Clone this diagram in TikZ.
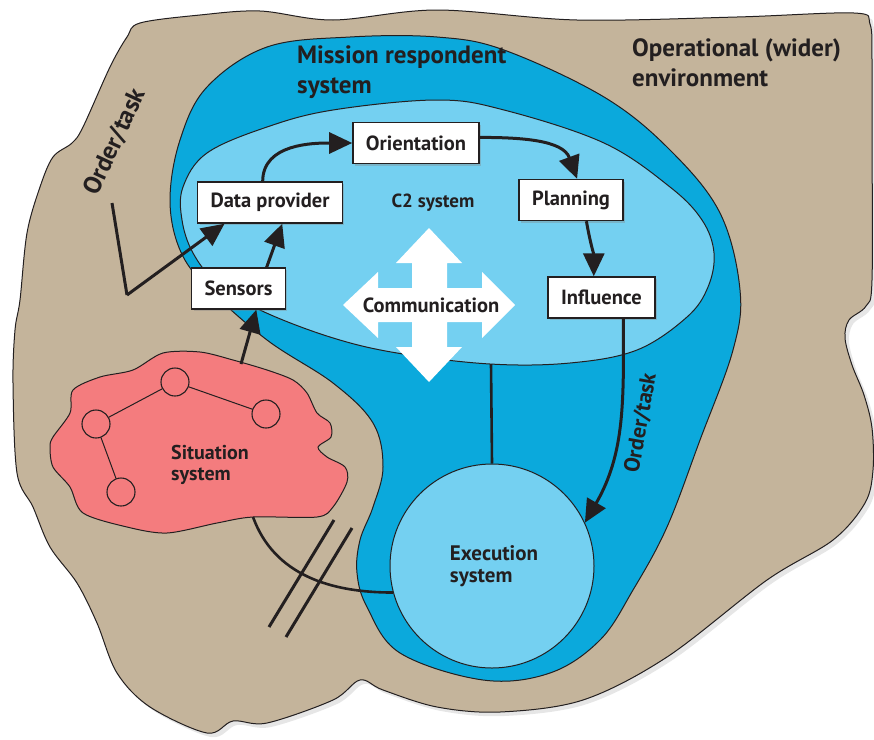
\documentclass[tikz,border=0pt]{standalone}
\usepackage{fontspec}
\setmainfont{PT Sans}
\usetikzlibrary{arrows.meta, positioning, shadows, calc}
\definecolor{ink}{HTML}{231F20}
\definecolor{landtan}{HTML}{C4B49B}
\definecolor{missionblue}{HTML}{0BA9DC}
\definecolor{ctwoblue}{HTML}{74D0F1}
\definecolor{sitpink}{HTML}{F47C7E}

\begin{document}
\begin{tikzpicture}[x=1pt, y=1pt,
  region/.style={draw=ink, line width=1pt},
  stage/.style={draw=ink, line width=1.4pt, fill=white, text=ink,
    font=\fontsize{20.5}{22}\selectfont\bfseries, inner xsep=13pt, minimum height=41pt,
    drop shadow={shadow xshift=2pt, shadow yshift=-2pt, opacity=0.35}},
  flow/.style={draw=ink, line width=3pt, -{Triangle[length=23pt, width=21pt]}},
  link/.style={draw=ink, line width=2.6pt},
  tag/.style={text=ink, font=\fontsize{20.5}{22}\selectfont\bfseries, align=left, inner sep=0pt},
  bigtag/.style={text=ink, font=\fontsize{25}{30}\selectfont\bfseries, align=left, inner sep=0pt},
  dot/.style={circle, draw=ink, line width=1.1pt, minimum size=28pt, inner sep=0pt}]
  \useasboundingbox (0,0) rectangle (874,-739);

  % Operational environment
  \path[region, fill=landtan, drop shadow={shadow xshift=4pt, shadow yshift=-4pt, opacity=0.2}]
    plot[smooth cycle, tension=0.55] coordinates {(140,-23) (200,-15) (260,-11) (333,-20) (437,-10)
      (577,-20) (737,-17) (854,-13) (870,-24) (872,-60) (872,-130) (872,-280) (866,-306) (849,-320)
      (845,-338) (852,-365) (864,-395) (872,-428) (873,-470) (865,-503) (833,-540) (767,-580)
      (667,-657) (583,-700) (500,-712) (437,-707) (383,-690) (360,-680) (333,-700) (267,-723)
      (233,-721) (207,-733) (150,-707) (117,-673) (97,-623) (77,-583) (50,-547) (33,-507)
      (17,-473) (13,-383) (15,-330) (20,-300) (27,-233) (40,-187) (53,-157) (72,-143) (83,-127)
      (110,-67) (127,-37)};

  % Mission respondent system
  \path[region, fill=missionblue]
    plot[smooth cycle, tension=0.6] coordinates {(350,-37) (437,-37) (504,-50) (604,-97) (670,-150)
      (720,-213) (740,-290) (733,-350) (700,-440) (667,-527) (633,-590) (600,-640) (550,-673)
      (483,-680) (400,-653) (367,-607) (357,-573) (360,-540) (373,-507) (383,-467) (373,-423)
      (333,-383) (267,-340) (207,-287) (180,-250) (170,-200) (180,-140) (207,-87) (267,-47)};

  % C2 system
  \path[region, fill=ctwoblue]
    plot[smooth cycle, tension=0.6] coordinates {(183,-187) (207,-153) (267,-127) (333,-110)
      (437,-100) (504,-110) (604,-143) (670,-187) (702,-220) (714,-253) (708,-287) (687,-317)
      (637,-350) (570,-363) (490,-364) (397,-353) (330,-337) (260,-310) (217,-283) (193,-253)
      (182,-220)};
  \coordinate (c2base) at (491,-364);

  % Execution system
  \node[circle, region, fill=ctwoblue, minimum size=204pt, inner sep=0pt] (exec) at (492,-566) {};
  \node[tag, font=\fontsize{21}{22}\selectfont\bfseries] at (494,-566) {Execution\\system};
  \draw[link] (c2base) -- (exec.north);

  % Communication cross
  \fill[white] (429,-228) -- (462,-263) -- (447,-263) -- (447,-288) -- (482,-288) -- (482,-272)
    -- (515,-305) -- (482,-338) -- (482,-322) -- (447,-322) -- (447,-347) -- (462,-347)
    -- (429,-382) -- (396,-347) -- (412,-347) -- (412,-322) -- (378,-322) -- (378,-338)
    -- (343,-305) -- (378,-272) -- (378,-288) -- (412,-288) -- (412,-263) -- (396,-263) -- cycle;
  \node[tag] (comm) at (431,-305) {Communication};

  % Situation system
  \path[region, fill=sitpink]
    plot[smooth cycle, tension=0.5] coordinates {(53,-437) (70,-413) (73,-390) (100,-377) (133,-370)
      (163,-353) (200,-352) (233,-360) (267,-370) (293,-380) (307,-393) (317,-413) (330,-423)
      (331,-437) (318,-447) (327,-457) (345,-467) (347,-482) (333,-507) (317,-517) (253,-517)
      (217,-523) (167,-533) (127,-527) (83,-513) (70,-487) (53,-467) (50,-447)};
  \node[dot] (s1) at (175,-382) {};
  \node[dot] (s2) at (266,-414) {};
  \node[dot] (s3) at (96,-424) {};
  \node[dot] (s4) at (121,-492) {};
  \draw[ink, line width=1pt] (s3) -- (s1) -- (s2);
  \draw[ink, line width=1pt] (s3) -- (s4);
  \node[tag, font=\fontsize{20}{21}\selectfont\bfseries] (sit) at (210,-465) {Situation\\system};
  \coordinate (sittop) at (241,-364);
  \coordinate (sitbase) at (253,-517);

  % Boxes of the C2 loop
  \node[stage] (dataprov) at (270,-202.5) {Data provider};
  \node[stage] (orient) at (416,-143) {Orientation};
  \node[stage] (sensors) at (238.5,-288.5) {Sensors};
  \node[stage] (plan) at (571,-200) {Planning};
  \node[stage] (influence) at (601.5,-297.5) {Influence};

  % Loop arrows
  \draw[flow] (dataprov.109) to[out=90, in=180] (orient.west);
  \draw[flow] (orient.5) to[out=0, in=110] (plan.74);
  \draw[flow] (plan.-54) to[out=-80, in=90] (influence.110);
  \draw[flow] (sensors.37) -- (dataprov.-60);
  \draw[flow] (sittop) -- (sensors.-50);
  \draw[flow] (influence.-44) to[out=-90, in=60] (exec.25);

  % Order/task from outside
  \coordinate (ordtop) at (112,-203);
  \coordinate (ordbend) at (127,-295);
  \draw[ink, line width=3pt] (ordtop) -- (ordbend);
  \draw[flow] (ordbend) -- (dataprov.-155);

  % Situation to execution, cut
  \draw[link] (sitbase) to[out=-70, in=180] (exec.195);
  \draw[ink, line width=3pt] (334,-520) -- (269,-627);
  \draw[ink, line width=3pt] (352,-528) -- (286,-637);

  % Labels
  \node[tag, font=\fontsize{25}{26}\selectfont\bfseries, rotate=65] at (115,-142) {Order/task};
  \node[tag, font=\fontsize{22}{24}\selectfont\bfseries, rotate=80] at (641,-423) {Order/task};
  \node[tag, font=\fontsize{19}{20}\selectfont\bfseries] at (433,-203) {C2 system};
  \node[bigtag, anchor=west] at (297,-72) {Mission respondent\\system};
  \node[bigtag, anchor=west] at (632,-63) {Operational (wider)\\environment};
\end{tikzpicture}
\end{document}
